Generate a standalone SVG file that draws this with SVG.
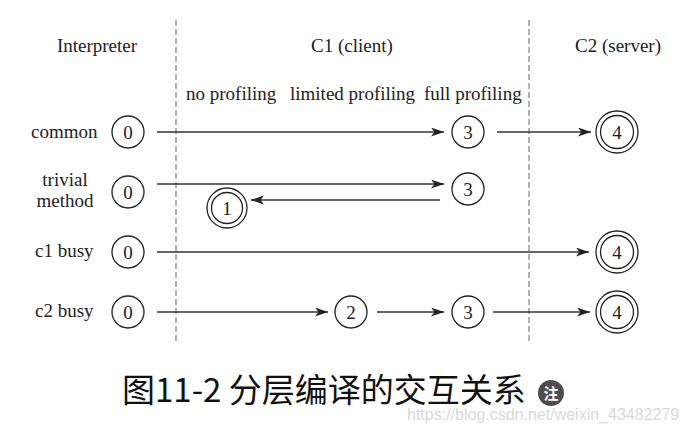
<svg xmlns="http://www.w3.org/2000/svg" width="689" height="431" viewBox="0 0 689 431">
<style>
.t{font-family:"Liberation Serif","Times New Roman",serif;font-size:19px;fill:#222}
.n{font-family:"Liberation Serif","Times New Roman",serif;font-size:19px;fill:#222;text-anchor:middle}
.c{fill:#fff;stroke:#222;stroke-width:1.3}
.e{stroke:#333;stroke-width:1.3;fill:none}
.d{stroke:#888;stroke-width:1.3;stroke-dasharray:6 3;fill:none}
</style>
<defs>
<marker id="a" markerUnits="userSpaceOnUse" markerWidth="14" markerHeight="10" refX="13" refY="4.5" orient="auto">
<path d="M0,0 L13,4.5 L0,9 L3.5,4.5 z" fill="#222"/>
</marker>
</defs>
<rect width="689" height="431" fill="#fff"/>
<g id="dividers">
<line class="d" x1="176" y1="20" x2="176" y2="343"/>
<line class="d" x1="529" y1="20" x2="529" y2="343"/>
</g>
<g id="headers">
<text class="t" x="97" y="52" text-anchor="middle">Interpreter</text>
<text class="t" x="352" y="52" text-anchor="middle">C1 (client)</text>
<text class="t" x="618" y="52" text-anchor="middle">C2 (server)</text>
<text class="t" x="186" y="100">no profiling</text>
<text class="t" x="290" y="100">limited profiling</text>
<text class="t" x="424" y="100">full profiling</text>
</g>
<g id="row-labels">
<text class="t" x="31" y="138">common</text>
<text class="t" x="65" y="186" text-anchor="middle">trivial</text>
<text class="t" x="65" y="207" text-anchor="middle">method</text>
<text class="t" x="35" y="257">c1 busy</text>
<text class="t" x="35" y="317">c2 busy</text>
</g>
<g id="connectors">
<line class="e" x1="157" y1="132" x2="444" y2="132" marker-end="url(#a)"/>
<line class="e" x1="497" y1="132" x2="591" y2="132" marker-end="url(#a)"/>
<line class="e" x1="157" y1="184" x2="444" y2="184" marker-end="url(#a)"/>
<line class="e" x1="440" y1="200" x2="251" y2="200" marker-end="url(#a)"/>
<line class="e" x1="157" y1="252" x2="589" y2="252" marker-end="url(#a)"/>
<line class="e" x1="157" y1="312" x2="328" y2="312" marker-end="url(#a)"/>
<line class="e" x1="377" y1="312" x2="444" y2="312" marker-end="url(#a)"/>
<line class="e" x1="493" y1="312" x2="590" y2="312" marker-end="url(#a)"/>
</g>
<g id="common-0"><circle class="c" cx="128" cy="132" r="16"/><text class="n" x="128" y="138.5">0</text></g>
<g id="common-3"><circle class="c" cx="468" cy="132" r="16"/><text class="n" x="468" y="138.5">3</text></g>
<g id="common-4"><circle class="c" cx="617" cy="132" r="21"/><circle class="c" cx="617" cy="132" r="16.5"/><text class="n" x="617" y="138.5">4</text></g>
<g id="trivial-0"><circle class="c" cx="128" cy="192" r="16"/><text class="n" x="128" y="198.5">0</text></g>
<g id="trivial-3"><circle class="c" cx="468" cy="189" r="16"/><text class="n" x="468" y="195.5">3</text></g>
<g id="trivial-1"><circle class="c" cx="227" cy="208" r="20"/><circle class="c" cx="227" cy="208" r="15.5"/><text class="n" x="227" y="214.5">1</text></g>
<g id="c1busy-0"><circle class="c" cx="128" cy="252" r="16"/><text class="n" x="128" y="258.5">0</text></g>
<g id="c1busy-4"><circle class="c" cx="617" cy="252" r="21"/><circle class="c" cx="617" cy="252" r="16.5"/><text class="n" x="617" y="258.5">4</text></g>
<g id="c2busy-0"><circle class="c" cx="128" cy="312" r="16"/><text class="n" x="128" y="318.5">0</text></g>
<g id="c2busy-2"><circle class="c" cx="351" cy="312" r="16"/><text class="n" x="351" y="318.5">2</text></g>
<g id="c2busy-3"><circle class="c" cx="468" cy="312" r="16"/><text class="n" x="468" y="318.5">3</text></g>
<g id="c2busy-4"><circle class="c" cx="617" cy="312" r="21"/><circle class="c" cx="617" cy="312" r="16.5"/><text class="n" x="617" y="318.5">4</text></g>
<g id="caption">
<text x="122" y="402" font-family="'Noto Sans CJK SC',sans-serif" font-size="33" fill="#111">图11-2 分层编译的交互关系</text>
<circle cx="551" cy="393" r="13" fill="#4d4d4d"/>
<text x="551" y="399" font-family="'Noto Sans CJK SC',sans-serif" font-size="15" font-weight="bold" fill="#fff" text-anchor="middle">注</text>
<text x="407" y="420" font-family="'Liberation Sans',Arial,sans-serif" font-size="16" fill="#d9d9d9">https://blog.csdn.net/weixin_43482279</text>
</g>
</svg>
